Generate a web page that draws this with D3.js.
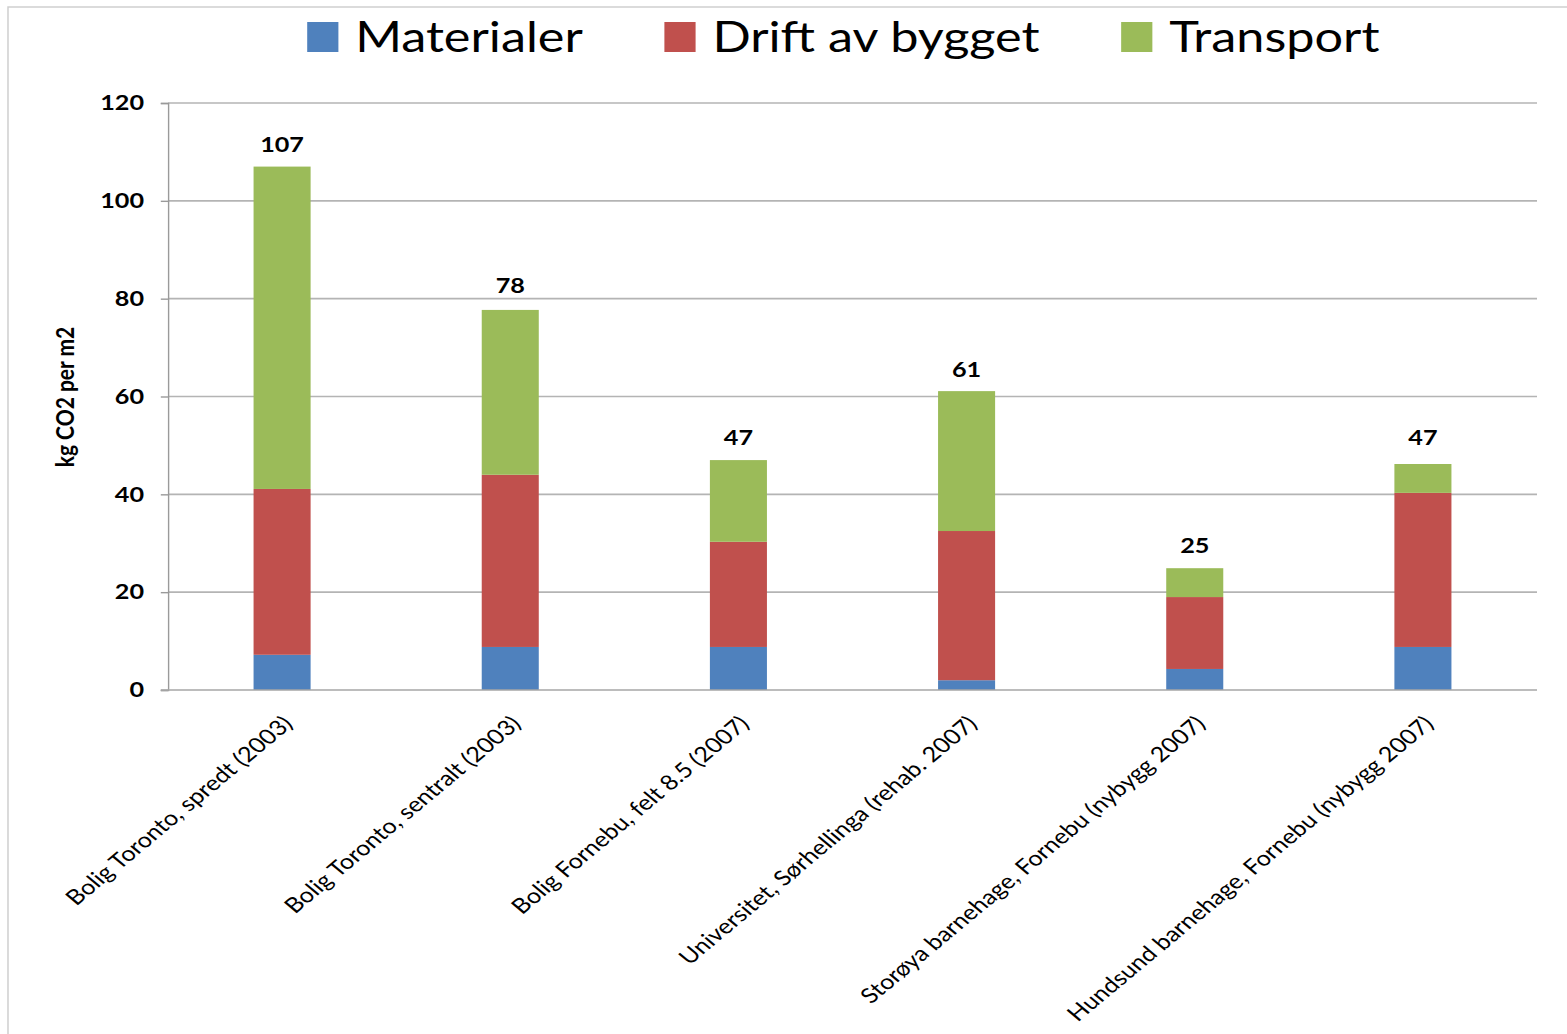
<!DOCTYPE html>
<html>
<head>
<meta charset="utf-8">
<script src="https://cdn.jsdelivr.net/npm/d3@7"></script>
<style>
  body { margin: 0; background: #fff; }
  svg { display: block; }
  .grid line, .frame, .axis-line { vector-effect: non-scaling-stroke; }
</style>
</head>
<body>
<svg id="chart"></svg>
<script>
// data
const categories = [
  "Bolig Toronto, spredt (2003)",
  "Bolig Toronto, sentralt (2003)",
  "Bolig Fornebu, felt 8.5 (2007)",
  "Universitet, Sørhellinga (rehab. 2007)",
  "Storøya barnehage, Fornebu (nybygg 2007)",
  "Hundsund barnehage, Fornebu (nybygg 2007)"
];
const seriesNames = ["Materialer", "Drift av bygget", "Transport"];
const seriesColors = ["#4F81BD", "#C0504D", "#9BBB59"];
const materialer = [7.2, 8.8, 8.8, 2.0, 4.3, 8.8];
const drift = [33.9, 35.2, 21.5, 30.5, 14.7, 31.5];
const transport = [65.9, 33.7, 16.7, 28.6, 5.9, 5.9];
const totalLabels = [107, 78, 47, 61, 25, 47];
const yTicks = [0, 20, 40, 60, 80, 100, 120];
const yTitle = "kg CO2 per m2";

// the original picture is stretched horizontally, so draw in a narrower viewBox
const SX = 1.2;
const pxW = 1567, pxH = 1034;
const W = pxW / SX;
const font = "Lato, 'Open Sans', sans-serif";

const svg = d3.select('#chart')
  .attr('width', pxW)
  .attr('height', pxH)
  .attr('viewBox', `0 0 ${W} ${pxH}`)
  .attr('preserveAspectRatio', 'none');

const margin = { left: 168 / SX, right: 1537 / SX, top: 103, bottom: 690 };

// outer chart frame (only top and left edges show)
svg.append('rect')
  .attr('class', 'frame')
  .attr('x', 8 / SX)
  .attr('y', 7)
  .attr('width', W)
  .attr('height', pxH + 50)
  .attr('fill', 'none')
  .attr('stroke', '#cfcfcf')
  .attr('stroke-width', 1.5);

const rows = categories.map((c, i) => ({
  cat: c,
  Materialer: materialer[i],
  "Drift av bygget": drift[i],
  Transport: transport[i],
  label: totalLabels[i]
}));

const xScale = d3.scaleBand()
  .domain(categories)
  .range([margin.left, margin.right])
  .paddingInner(0.75)
  .paddingOuter(0.375);

const yScale = d3.scaleLinear()
  .domain([0, 120])
  .range([margin.bottom, margin.top]);

const color = d3.scaleOrdinal(seriesNames, seriesColors);

// gridlines
svg.append('g')
  .attr('class', 'grid')
  .selectAll('line')
  .data(yTicks.filter(d => d > 0))
  .enter()
  .append('line')
  .attr('x1', margin.left)
  .attr('x2', margin.right)
  .attr('y1', d => yScale(d))
  .attr('y2', d => yScale(d))
  .attr('stroke', '#b4b4b4')
  .attr('stroke-width', 1.6);

// Y axis
const yAxis = svg.append('g')
  .attr('transform', `translate(${margin.left}, 0)`)
  .call(d3.axisLeft(yScale).tickValues(yTicks).tickSize(6).tickPadding(14));
yAxis.selectAll('path, line')
  .attr('stroke', '#9a9a9a')
  .attr('stroke-width', 1.4)
  .attr('class', 'axis-line');
yAxis.select('.domain').attr('d', `M-6,${margin.top}H0V${margin.bottom}H-6`);
yAxis.selectAll('text')
  .attr('font-family', font)
  .attr('font-weight', 'bold')
  .attr('font-size', 21)
  .attr('fill', '#000');

// stacked bars
const stack = d3.stack().keys(seriesNames)(rows);

svg.append('g')
  .selectAll('g')
  .data(stack)
  .enter()
  .append('g')
  .attr('fill', d => color(d.key))
  .selectAll('rect')
  .data(d => d)
  .enter()
  .append('rect')
  .attr('x', d => xScale(d.data.cat))
  .attr('width', xScale.bandwidth())
  .attr('y', d => yScale(d[1]))
  .attr('height', d => yScale(d[0]) - yScale(d[1]));

// X axis line
svg.append('line')
  .attr('class', 'axis-line')
  .attr('x1', margin.left - 6)
  .attr('x2', margin.right)
  .attr('y1', margin.bottom)
  .attr('y2', margin.bottom)
  .attr('stroke', '#a6a6a6')
  .attr('stroke-width', 1.6);

// total labels
svg.append('g')
  .selectAll('text')
  .data(rows)
  .enter()
  .append('text')
  .attr('x', d => xScale(d.cat) + xScale.bandwidth() / 2)
  .attr('y', d => yScale(d.label) - 15)
  .attr('text-anchor', 'middle')
  .attr('font-family', font)
  .attr('font-weight', 'bold')
  .attr('font-size', 21)
  .text(d => d.label);

// category labels, rotated
svg.append('g')
  .selectAll('text')
  .data(categories)
  .enter()
  .append('text')
  .attr('transform', d => `translate(${xScale(d) + xScale.bandwidth() / 2 + 10}, ${margin.bottom + 35}) rotate(-45)`)
  .attr('text-anchor', 'end')
  .attr('font-family', font)
  .attr('font-size', 21)
  .text(d => d);

// y title
svg.append('text')
  .attr('transform', `translate(${74 / SX}, 397) rotate(-90)`)
  .attr('text-anchor', 'middle')
  .attr('font-family', font)
  .attr('font-weight', 'bold')
  .attr('font-size', 21)
  .text(yTitle);

// legend
const legend = svg.append('g').attr('transform', 'translate(256, 0)');
let lx = 0;
seriesNames.forEach((name, i) => {
  legend.append('rect')
    .attr('x', lx)
    .attr('y', 22)
    .attr('width', 26)
    .attr('height', 30)
    .attr('fill', seriesColors[i]);
  const t = legend.append('text')
    .attr('x', lx + 40)
    .attr('y', 52)
    .attr('font-family', font)
    .attr('font-size', 42)
    .text(name);
  lx += 40 + t.node().getComputedTextLength() + 68;
});
</script>
</body>
</html>
